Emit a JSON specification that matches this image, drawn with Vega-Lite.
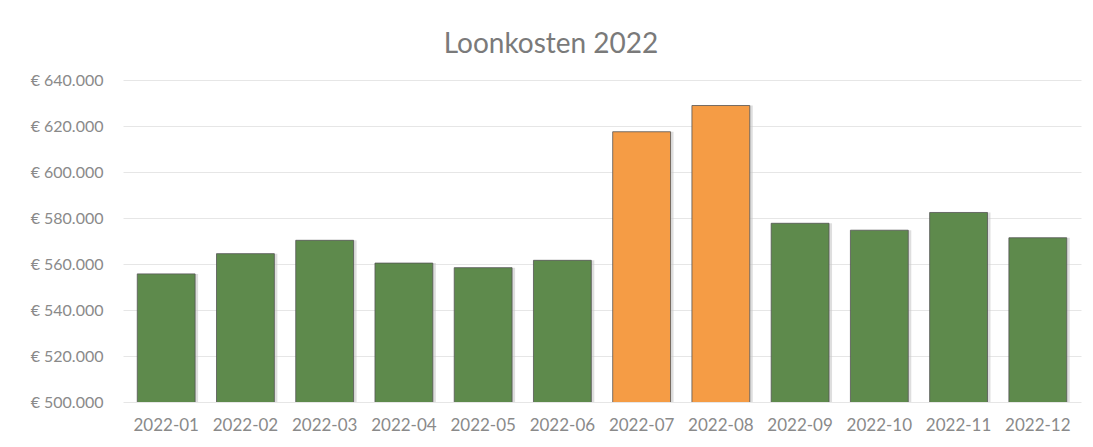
{
  "$schema": "https://vega.github.io/schema/vega-lite/v6.json",
  "width": 958,
  "height": 322,
  "autosize": {"type": "none"},
  "padding": {"left": 123, "top": 80, "right": 12, "bottom": 45},
  "background": "white",
  "title": {"text": "Loonkosten 2022", "font": "Lato", "fontSize": 28, "fontWeight": "normal", "color": "#7a7a7a", "offset": 13, "anchor": "middle", "dx": -51},
  "data": {"values": [
    {"maand": "2022-01", "kosten": 555700, "type": "normaal"},
    {"maand": "2022-02", "kosten": 564500, "type": "normaal"},
    {"maand": "2022-03", "kosten": 570300, "type": "normaal"},
    {"maand": "2022-04", "kosten": 560400, "type": "normaal"},
    {"maand": "2022-05", "kosten": 558400, "type": "normaal"},
    {"maand": "2022-06", "kosten": 561600, "type": "normaal"},
    {"maand": "2022-07", "kosten": 617500, "type": "vakantie"},
    {"maand": "2022-08", "kosten": 628900, "type": "vakantie"},
    {"maand": "2022-09", "kosten": 577700, "type": "normaal"},
    {"maand": "2022-10", "kosten": 574700, "type": "normaal"},
    {"maand": "2022-11", "kosten": 582400, "type": "normaal"},
    {"maand": "2022-12", "kosten": 571400, "type": "normaal"}
  ]},
  "encoding": {
    "x": {"field": "maand", "type": "ordinal", "title": null,
      "scale": {"paddingInner": 0.27, "paddingOuter": 0.18},
      "axis": {"labelAngle": 0, "domain": false, "ticks": false, "labelFont": "Lato", "labelFontSize": 17, "labelColor": "#8a8a8a", "labelPadding": 15}},
    "y": {"field": "kosten", "type": "quantitative", "title": null,
      "scale": {"domain": [500000, 640000], "nice": false, "zero": false},
      "axis": {"values": [500000, 520000, 540000, 560000, 580000, 600000, 620000, 640000], "domain": false, "ticks": false, "labelFont": "Lato", "labelFontSize": 16, "labelColor": "#8a8a8a", "labelPadding": 20, "gridColor": "#e6e6e6", "gridWidth": 1,
        "labelExpr": "'€ ' + replace(format(datum.value, ',.0f'), /,/g, '.')"}}
  },
  "layer": [
    {"mark": {"type": "bar", "color": "#c8c8c8", "opacity": 0.6, "xOffset": 3, "clip": true}},
    {"mark": {"type": "bar", "stroke": "#555555", "strokeWidth": 0.8, "clip": true},
     "encoding": {
       "color": {"field": "type", "type": "nominal", "legend": null,
         "scale": {"domain": ["normaal", "vakantie"], "range": ["#5e8a4c", "#f59c45"]}}
     }}
  ],
  "config": {"view": {"stroke": null}}
}
